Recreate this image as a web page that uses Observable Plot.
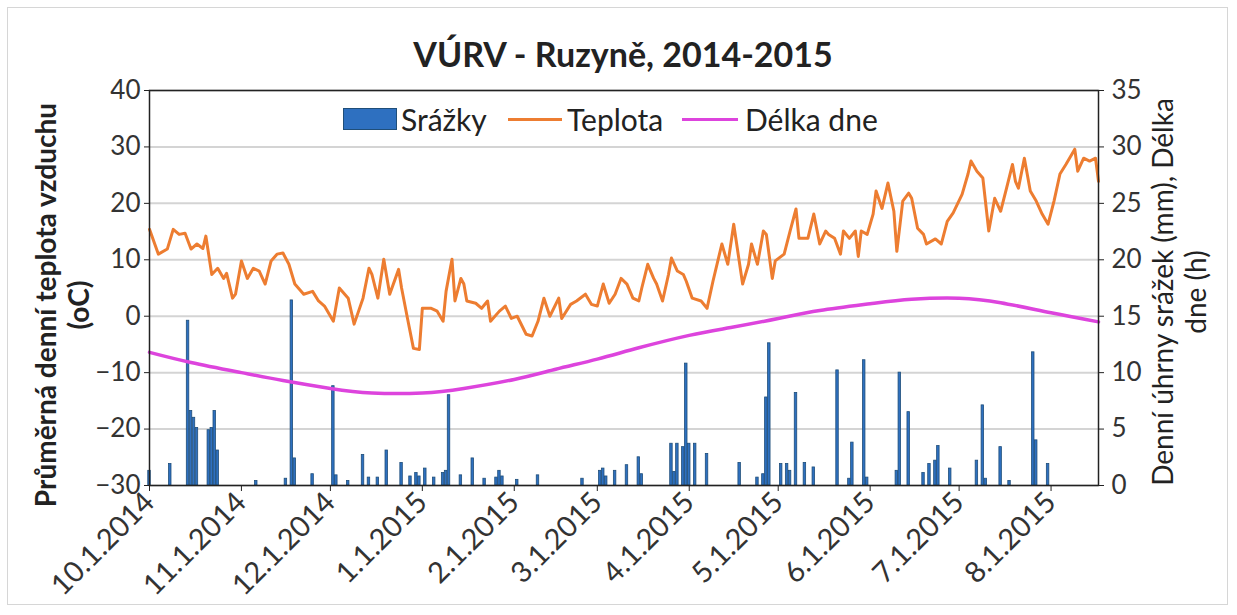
<!DOCTYPE html>
<html>
<head>
<meta charset="utf-8">
<script src="https://cdn.jsdelivr.net/npm/d3@7"></script>
<script src="https://cdn.jsdelivr.net/npm/@observablehq/plot@0.6"></script>
<style>
  body { margin: 0; background: #fff; font-family: Lato, "Open Sans", sans-serif; }
  #wrap { position: relative; width: 1237px; height: 615px; overflow: hidden; background: #fff; }
  #border { position: absolute; left: 7px; top: 7px; width: 1221px; height: 598px; border: 1px solid #d6d6d6; box-sizing: border-box; }
  #chart { position: absolute; left: 0; top: 0; }
  #title { position: absolute; left: 0; width: 1246px; top: 34px; text-align: center; font-weight: bold; font-size: 34px; color: #222; line-height: 40px; }
  .ylab { position: absolute; white-space: nowrap; text-align: center; color: #222; transform: translate(-50%, -50%) rotate(-90deg); line-height: 33px; }
  #ylabL { left: 62px; top: 305px; font-size: 28px; font-weight: bold; }
  #ylabR { left: 1179px; top: 292px; font-size: 28px; }
  .leg { position: absolute; font-size: 30px; color: #222; line-height: 30px; top: 104px; white-space: nowrap; }
  .sw { position: absolute; }
</style>
</head>
<body>
<div id="wrap">
  <div id="border"></div>
  <div id="chart"></div>
  <div id="title">VÚRV - Ruzyně, 2014-2015</div>
  <div class="ylab" id="ylabL">Průměrná denní teplota vzduchu<br>(oC)</div>
  <div class="ylab" id="ylabR">Denní úhrny srážek (mm), Délka<br>dne (h)</div>
  <div class="sw" style="left:343px;top:108px;width:54px;height:22px;background:#2e70c0;border:1px solid #1f4e79;box-sizing:border-box;"></div>
  <div class="leg" style="left:401px;">Srážky</div>
  <div class="sw" style="left:508px;top:118px;width:54px;height:3px;background:#ed7d31;"></div>
  <div class="leg" style="left:567px;">Teplota</div>
  <div class="sw" style="left:682px;top:118px;width:56px;height:3px;background:#dd44dd;"></div>
  <div class="leg" style="left:745px;">Délka dne</div>
</div>
<script>
// ---- Data ----
const tempDates = ["2014-10-01","2014-10-04","2014-10-07","2014-10-09","2014-10-11","2014-10-13","2014-10-15","2014-10-17","2014-10-19","2014-10-20","2014-10-22","2014-10-24","2014-10-26","2014-10-27","2014-10-29","2014-10-30","2014-11-01","2014-11-03","2014-11-05","2014-11-07","2014-11-09","2014-11-11","2014-11-13","2014-11-15","2014-11-17","2014-11-19","2014-11-22","2014-11-25","2014-11-27","2014-11-29","2014-12-02","2014-12-04","2014-12-07","2014-12-09","2014-12-12","2014-12-14","2014-12-15","2014-12-17","2014-12-19","2014-12-21","2014-12-24","2014-12-25","2014-12-27","2014-12-29","2014-12-31","2015-01-01","2015-01-04","2015-01-06","2015-01-08","2015-01-09","2015-01-11","2015-01-12","2015-01-14","2015-01-15","2015-01-16","2015-01-19","2015-01-21","2015-01-23","2015-01-24","2015-01-27","2015-01-29","2015-01-31","2015-02-02","2015-02-05","2015-02-07","2015-02-09","2015-02-11","2015-02-13","2015-02-16","2015-02-17","2015-02-20","2015-02-22","2015-02-25","2015-02-27","2015-03-01","2015-03-03","2015-03-05","2015-03-07","2015-03-09","2015-03-11","2015-03-13","2015-03-15","2015-03-16","2015-03-18","2015-03-20","2015-03-21","2015-03-23","2015-03-25","2015-03-26","2015-03-28","2015-03-30","2015-03-31","2015-04-02","2015-04-05","2015-04-07","2015-04-09","2015-04-12","2015-04-14","2015-04-16","2015-04-19","2015-04-21","2015-04-22","2015-04-24","2015-04-26","2015-04-27","2015-04-29","2015-04-30","2015-05-03","2015-05-05","2015-05-07","2015-05-08","2015-05-11","2015-05-13","2015-05-15","2015-05-17","2015-05-18","2015-05-20","2015-05-22","2015-05-23","2015-05-25","2015-05-27","2015-05-28","2015-05-29","2015-05-31","2015-06-02","2015-06-03","2015-06-05","2015-06-07","2015-06-09","2015-06-10","2015-06-12","2015-06-14","2015-06-15","2015-06-17","2015-06-19","2015-06-20","2015-06-23","2015-06-25","2015-06-27","2015-06-29","2015-07-02","2015-07-04","2015-07-05","2015-07-07","2015-07-09","2015-07-11","2015-07-13","2015-07-15","2015-07-17","2015-07-19","2015-07-20","2015-07-21","2015-07-23","2015-07-25","2015-07-27","2015-07-29","2015-07-31","2015-08-02","2015-08-04","2015-08-06","2015-08-09","2015-08-10","2015-08-12","2015-08-14","2015-08-16","2015-08-17"];
const tempValues = [15.4,11.0,11.9,15.4,14.5,14.7,11.9,12.8,12.0,14.2,7.4,8.5,6.7,7.6,3.2,3.9,9.8,6.7,8.5,8.0,5.7,9.8,11.0,11.2,9.2,5.7,3.9,4.4,2.7,1.8,-0.9,5.0,3.2,-1.4,3.2,8.5,7.4,3.2,10.1,3.9,8.3,5.0,-0.4,-5.7,-5.9,1.4,1.4,0.9,-0.9,4.4,10.1,2.7,6.7,5.7,2.7,2.3,1.4,2.7,-0.9,0.9,1.8,-0.4,0.0,-3.2,-3.5,-0.9,3.2,0.0,3.2,-0.4,2.1,2.7,3.9,2.1,1.8,5.7,2.3,3.9,6.7,5.7,3.2,2.7,5.0,9.2,6.7,5.7,2.7,7.4,10.3,8.0,7.4,6.2,3.2,2.7,1.4,6.2,12.8,9.2,16.3,5.7,9.2,12.8,9.2,15.1,14.5,6.7,9.8,11.0,15.1,19.0,13.8,13.8,18.1,12.8,15.1,14.5,13.8,11.0,15.1,13.8,15.1,10.6,15.1,14.5,18.1,22.2,19.1,23.6,18.6,11.5,20.4,21.8,20.9,15.6,14.5,12.8,13.7,12.8,16.8,18.3,21.6,25.2,27.5,25.7,24.5,15.1,20.9,18.6,22.7,26.9,23.9,22.7,28.0,22.2,20.4,18.1,16.3,20.4,25.2,26.9,29.6,25.7,28.0,27.5,28.0,23.9];

const rainDates = ["2014-10-01","2014-10-08","2014-10-14","2014-10-15","2014-10-16","2014-10-17","2014-10-21","2014-10-22","2014-10-23","2014-10-24","2014-11-06","2014-11-16","2014-11-18","2014-11-19","2014-11-25","2014-12-02","2014-12-03","2014-12-07","2014-12-12","2014-12-14","2014-12-17","2014-12-20","2014-12-25","2014-12-28","2014-12-30","2014-12-31","2015-01-02","2015-01-05","2015-01-08","2015-01-09","2015-01-10","2015-01-14","2015-01-18","2015-01-22","2015-01-26","2015-01-27","2015-01-28","2015-02-02","2015-02-09","2015-02-24","2015-03-02","2015-03-03","2015-03-04","2015-03-07","2015-03-11","2015-03-15","2015-03-16","2015-03-26","2015-03-27","2015-03-28","2015-03-30","2015-03-31","2015-04-01","2015-04-03","2015-04-07","2015-04-18","2015-04-24","2015-04-26","2015-04-27","2015-04-28","2015-05-02","2015-05-04","2015-05-05","2015-05-07","2015-05-10","2015-05-13","2015-05-21","2015-05-25","2015-05-26","2015-05-30","2015-05-31","2015-06-10","2015-06-11","2015-06-14","2015-06-19","2015-06-21","2015-06-23","2015-06-24","2015-06-28","2015-07-07","2015-07-09","2015-07-10","2015-07-15","2015-07-18","2015-07-26","2015-07-27","2015-07-31"];
const rainValues = [1.3,1.9,14.6,6.6,6.0,5.1,4.9,5.1,6.6,3.1,0.4,0.6,16.4,2.4,1.0,8.8,0.9,0.4,2.7,0.7,0.7,3.1,2.0,0.8,1.1,0.8,1.5,0.7,1.1,1.3,8.0,0.9,2.4,0.6,0.7,1.3,0.8,0.5,0.9,0.6,1.3,1.5,0.8,1.3,1.8,2.5,1.0,3.7,1.2,3.7,3.4,10.8,3.7,3.7,2.8,2.0,0.7,1.0,7.8,12.6,1.9,1.9,1.3,8.2,2.0,1.6,10.2,0.6,3.8,11.1,0.7,1.3,10.0,6.5,1.1,1.9,2.2,3.5,1.5,2.2,7.1,0.6,3.4,0.4,11.8,4.0,1.9];

const dayLenDates = ["2014-10-01","2014-10-15","2014-11-01","2014-11-15","2014-12-01","2014-12-15","2015-01-01","2015-01-15","2015-02-01","2015-02-15","2015-03-01","2015-03-15","2015-04-01","2015-04-15","2015-05-01","2015-05-15","2015-06-01","2015-06-15","2015-07-01","2015-07-15","2015-08-01","2015-08-17"];
const dayLenValues = [11.8,10.9,10.0,9.3,8.6,8.2,8.2,8.6,9.4,10.3,11.2,12.2,13.3,14.0,14.8,15.5,16.1,16.5,16.6,16.2,15.3,14.5];

const leftTicks = [-30,-20,-10,0,10,20,30,40];
const rightTicks = [0,5,10,15,20,25,30,35];
const monthTicks = ["2014-10-01","2014-11-01","2014-12-01","2015-01-01","2015-02-01","2015-03-01","2015-04-01","2015-05-01","2015-06-01","2015-07-01","2015-08-01"];
const xStart = "2014-10-01", xEnd = "2015-08-17";

// ---- Build ----
const parse = d3.utcParse("%Y-%m-%d");
const temps = tempDates.map((d, i) => ({date: parse(d), t: tempValues[i]}));
const rain = rainDates.map((d, i) => ({date: parse(d), mm: rainValues[i]}));
const dayLen = dayLenDates.map((d, i) => ({date: parse(d), h: dayLenValues[i]}));
const yMin = leftTicks[0], yMax = leftTicks[leftTicks.length - 1];
const rMax = rightTicks[rightTicks.length - 1];
const toLeft = v => yMin + v * (yMax - yMin) / rMax;
const fromLeft = v => (v - yMin) * rMax / (yMax - yMin);
const HALF = 10 * 3600 * 1000;

const chart = Plot.plot({
  width: 1237,
  height: 615,
  marginLeft: 149,
  marginRight: 139,
  marginTop: 90,
  marginBottom: 130,
  style: {fontFamily: "Lato, 'Open Sans', sans-serif", fontSize: "26px", color: "#333", background: "transparent"},
  x: {type: "utc", domain: [parse(xStart), parse(xEnd)]},
  y: {domain: [yMin, yMax]},
  marks: [
    Plot.gridY(leftTicks, {stroke: "#d4d4d4", strokeOpacity: 1, strokeWidth: 2}),
    Plot.rect(rain, {
      x1: d => new Date(+d.date - HALF),
      x2: d => new Date(+d.date + HALF),
      y1: yMin,
      y2: d => toLeft(d.mm),
      fill: "#2e70c0",
      stroke: "#1f4e79",
      strokeWidth: 0.8
    }),
    Plot.line(dayLen, {x: "date", y: d => toLeft(d.h), stroke: "#dd44dd", strokeWidth: 3.5, curve: "natural"}),
    Plot.line(temps, {x: "date", y: "t", stroke: "#ed7d31", strokeWidth: 3, strokeLinejoin: "round"}),
    Plot.frame({stroke: "#222", strokeWidth: 1.5}),
    Plot.axisY(leftTicks, {anchor: "left", tickSize: 5, tickPadding: 4, label: null, stroke: "#222"}),
    Plot.axisY(rightTicks.map(toLeft), {anchor: "right", tickSize: 5, tickPadding: 8, label: null, stroke: "#222",
      tickFormat: v => String(Math.round(fromLeft(v)))}),
    Plot.axisX(monthTicks.map(parse), {anchor: "bottom", tickRotate: -45, tickSize: 6, tickPadding: 6, fontSize: 29, label: null, stroke: "#222",
      tickFormat: d => `${d.getUTCMonth() + 1}.${d.getUTCDate()}.${d.getUTCFullYear()}`})
  ]
});
document.getElementById("chart").appendChild(chart);
</script>
</body>
</html>
